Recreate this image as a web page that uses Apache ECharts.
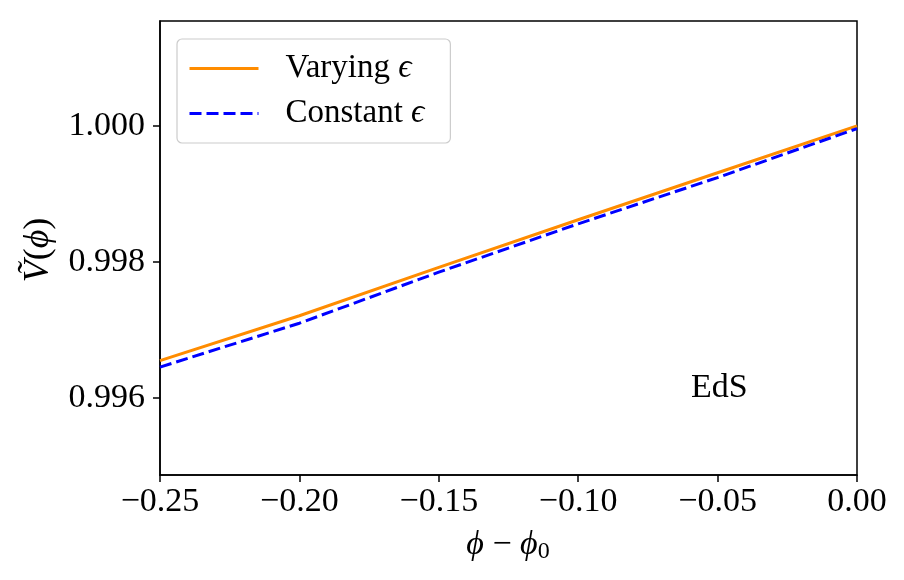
<!DOCTYPE html>
<html>
<head>
<meta charset="utf-8">
<script src="https://cdn.jsdelivr.net/npm/echarts@6/dist/echarts.min.js"></script>
<style>html,body{margin:0;padding:0;background:#fff}#c{width:904px;height:580px}</style>
</head>
<body>
<div id="c"></div>
<script>
const xValues = [-0.25, -0.20, -0.15, -0.10, -0.05, 0.00];
const varyingEps = [0.99655, 0.99721, 0.99792, 0.99862, 0.99931, 1.00000];
const constantEps = [0.996455, 0.99710, 0.99785, 0.99856, 0.99924, 0.99996];
const xTicks = [-0.25, -0.20, -0.15, -0.10, -0.05, 0.00];
const yTicks = [0.996, 0.998, 1.000];
const seriesNames = ['Varying ϵ', 'Constant ϵ'];

const font = '"Liberation Serif", "DejaVu Serif", serif';
const chart = echarts.init(document.getElementById('c'));
const toPairs = (ys) => xValues.map((x, i) => [x, ys[i]]);
const fmtX = (v) => (v < -1e-9 ? '\u2212' : '') + Math.abs(v).toFixed(2);

chart.setOption({
  animation: false,
  backgroundColor: '#fff',
  grid: {left: 160, right: 47, top: 21, bottom: 105, show: true, borderColor: '#000', borderWidth: 1.5, backgroundColor: 'transparent'},
  xAxis: {
    type: 'value', min: -0.25, max: 0,
    axisLine: {show: true, onZero: false, lineStyle: {color: '#000', width: 1.5}},
    axisTick: {show: true, length: 7, lineStyle: {color: '#000', width: 1.5}, customValues: xTicks},
    axisLabel: {customValues: xTicks, formatter: fmtX, color: '#000', fontFamily: font, fontSize: 34, margin: 10},
    splitLine: {show: false}
  },
  yAxis: {
    type: 'value', min: 0.99487, max: 1.00154,
    axisLine: {show: true, onZero: false, lineStyle: {color: '#000', width: 1.5}},
    axisTick: {show: true, length: 7, lineStyle: {color: '#000', width: 1.5}, customValues: yTicks},
    axisLabel: {customValues: yTicks, formatter: (v) => v.toFixed(3), color: '#000', fontFamily: font, fontSize: 34, margin: 15},
    splitLine: {show: false}
  },
  legend: {
    orient: 'vertical', left: 177, top: 39,
    padding: [13, 26, 13, 11],
    itemWidth: 69, itemHeight: 14, itemGap: 12,
    borderColor: '#ccc', borderWidth: 1.2, borderRadius: 5, backgroundColor: '#fff',
    data: seriesNames,
    itemStyle: {opacity: 0},
    lineStyle: {width: 3},
    formatter: (n) => n.replace('ϵ', '{e|ϵ}'),
    textStyle: {fontFamily: font, fontSize: 33, color: '#000', padding: [0, 0, 0, 22],
      rich: {e: {fontFamily: font, fontStyle: 'italic', fontSize: 33, color: '#000'}}}
  },
  series: [
    {name: seriesNames[0], type: 'line', data: toPairs(varyingEps), symbol: 'none', smooth: false,
     lineStyle: {color: '#ff8c00', width: 3}, itemStyle: {color: '#ff8c00'}, z: 3},
    {name: seriesNames[1], type: 'line', data: toPairs(constantEps), symbol: 'none', smooth: false,
     lineStyle: {color: '#0000ff', width: 3, type: [12, 5]}, itemStyle: {color: '#0000ff'}, z: 4}
  ],
  graphic: [
    {type: 'text', left: 691, top: 371, style: {text: 'EdS', fontFamily: font, fontSize: 34, fill: '#000'}},
    {type: 'text', x: 508, y: 545, style: {
      text: '{i|ϕ} − {i|ϕ}{s|0}', align: 'center', verticalAlign: 'middle', fontFamily: font, fontSize: 34, fill: '#000',
      rich: {i: {fontStyle: 'italic', fontFamily: font, fontSize: 34}, s: {fontFamily: font, fontSize: 24, padding: [14, 0, 0, 0]}}}},
    {type: 'text', x: 39, y: 250, rotation: Math.PI / 2, style: {
      text: '{i|Ṽ}({i|ϕ})', align: 'center', verticalAlign: 'middle', fontFamily: font, fontSize: 36, fill: '#000',
      rich: {i: {fontStyle: 'italic', fontFamily: font, fontSize: 36}}}}
  ]
});
</script>
</body>
</html>
